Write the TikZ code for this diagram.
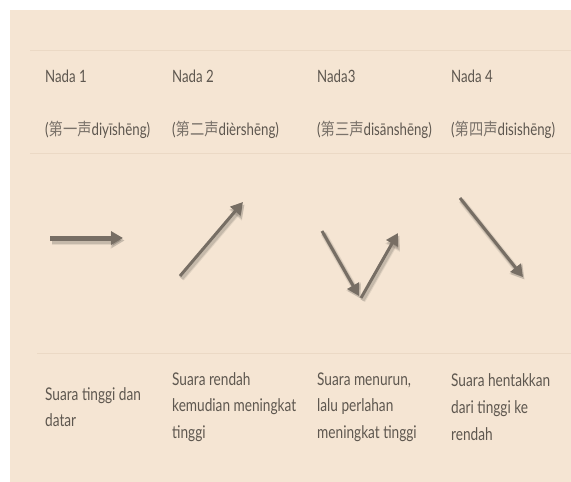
\documentclass[tikz,border=0pt]{standalone}
\usepackage{fontspec}
\setmainfont{Lato}[FakeStretch=0.78]
\newfontfamily\cjk{Noto Sans CJK SC}[FakeStretch=0.84]
\usetikzlibrary{arrows.meta}
\definecolor{bg}{HTML}{F5E5D3}
\definecolor{rulec}{HTML}{EBD9C5}
\definecolor{txt}{HTML}{5E574F}
\definecolor{cjkc}{HTML}{7A726A}
\definecolor{arr}{HTML}{776E64}
\newcommand\tonearr[3]{%
  \draw[black, opacity=0.08, line width=#1+3pt, -{Triangle[length=14pt,width=16pt]}, transform canvas={shift={(1.5pt,-2.5pt)}}] (#2) -- (#3);
  \draw[black, opacity=0.12, line width=#1+1pt, -{Triangle[length=13pt,width=14pt]}, transform canvas={shift={(1.5pt,-2.5pt)}}] (#2) -- (#3);
  \draw[arr, line width=#1, -{Triangle[length=12pt,width=13pt]}] (#2) -- (#3);}
\begin{document}
\begin{tikzpicture}[x=1pt,y=-1pt,
  headtxt/.style={font=\fontsize{17}{20}\selectfont, text=txt, anchor=west, inner sep=0pt},
  desctxt/.style={font=\fontsize{17.5}{26.7}\selectfont, text=txt, anchor=west, align=left, inner sep=0pt},
  rulel/.style={draw=rulec, line width=1pt}]
\useasboundingbox (0,0) rectangle (571,482);
\fill[white] (0,0) rectangle (571,482);
\fill[bg] (10,10) rectangle (571,482);
% rules
\coordinate (r1a) at (30,50);  \coordinate (r1b) at (571,50);
\coordinate (r2a) at (30,153); \coordinate (r2b) at (571,153);
\coordinate (r3a) at (37,353); \coordinate (r3b) at (571,353);
\draw[rulel] (r1a) -- (r1b);
\draw[rulel] (r2a) -- (r2b);
\draw[rulel] (r3a) -- (r3b);
% headers
\node[headtxt] (h1) at (45,76) {Nada 1};
\node[headtxt] (h2) at (172,76) {Nada 2};
\node[headtxt] (h3) at (317,76) {Nada3};
\node[headtxt] (h4) at (451,76) {Nada 4};
\node[headtxt] (p1) at (45,130) {({\cjk\color{cjkc}第一声}diyīshēng)};
\node[headtxt] (p2) at (172,130) {({\cjk\color{cjkc}第二声}dièrshēng)};
\node[headtxt] (p3) at (317,130) {({\cjk\color{cjkc}第三声}disānshēng)};
\node[headtxt] (p4) at (451,130) {({\cjk\color{cjkc}第四声}disishēng)};
% arrows
\coordinate (a1s) at (50,238);  \coordinate (a1e) at (123,238);
\coordinate (a2s) at (180,276); \coordinate (a2e) at (243,202);
\coordinate (a3s) at (322,231); \coordinate (a3m) at (359,296);
\coordinate (a3b) at (361,298); \coordinate (a3e) at (398,233);
\coordinate (a4s) at (460,198); \coordinate (a4e) at (523,277);
\tonearr{5pt}{a1s}{a1e}
\tonearr{3pt}{a2s}{a2e}
\tonearr{3pt}{a3s}{a3m}
\tonearr{3pt}{a3b}{a3e}
\tonearr{3pt}{a4s}{a4e}
% descriptions
\node[desctxt] (d1) at (45,407) {Suara tinggi dan\\datar};
\node[desctxt] (d2) at (172,407) {Suara rendah\\kemudian meningkat\\tinggi};
\node[desctxt] (d3) at (317,407) {Suara menurun,\\lalu perlahan\\meningkat tinggi};
\node[desctxt] (d4) at (451,407) {Suara hentakkan\\dari tinggi ke\\rendah};
\end{tikzpicture}
\end{document}
